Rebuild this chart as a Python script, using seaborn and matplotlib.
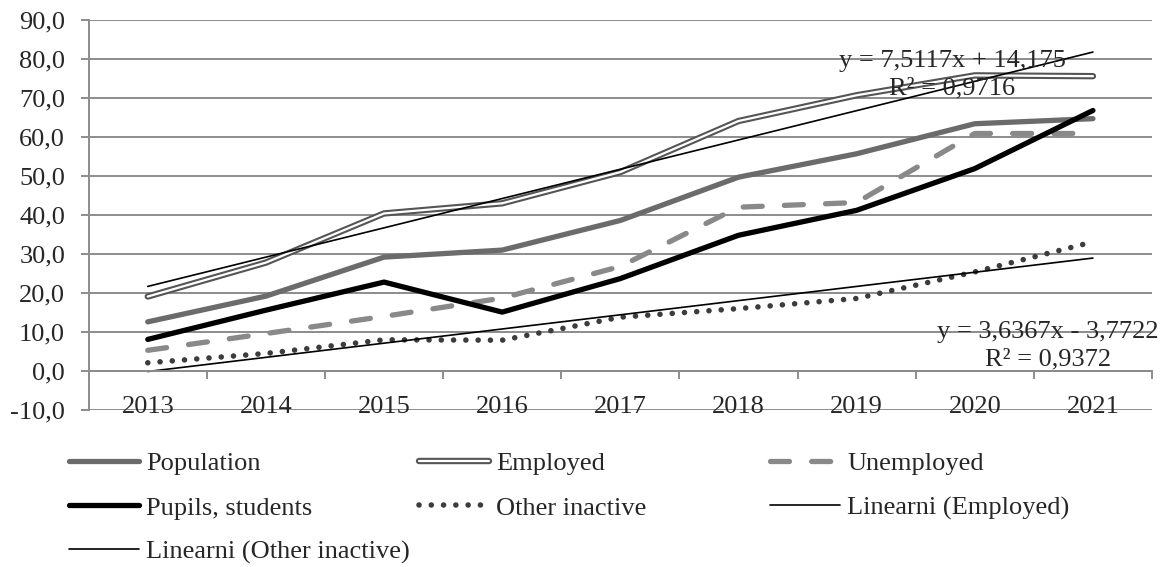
import matplotlib
matplotlib.use('Agg')
import matplotlib.pyplot as plt
import seaborn as sns
import numpy as np
from matplotlib.ticker import FuncFormatter, FixedLocator
from matplotlib.legend_handler import HandlerTuple

sns.set_theme(style='white')
plt.rcParams['font.family'] = ['Liberation Serif', 'DejaVu Serif']

years = ['2013', '2014', '2015', '2016', '2017', '2018', '2019', '2020', '2021']
population = [12.6, 19.2, 29.2, 31.0, 38.6, 49.7, 55.7, 63.4, 64.7]
employed = [19.1, 27.8, 40.4, 43.0, 51.0, 64.1, 70.7, 75.8, 75.6]
unemployed = [5.3, 9.6, 14.0, 18.7, 26.8, 42.0, 43.2, 60.9, 60.9]
pupils = [8.1, 15.6, 22.8, 15.1, 23.7, 34.8, 41.2, 51.9, 66.8]
other_inactive = [2.1, 4.5, 8.0, 7.9, 13.8, 16.0, 18.6, 25.4, 33.1]

# trend line coefficients as printed on the chart
emp_slope, emp_icpt, emp_r2 = 7.5117, 14.175, 0.9716
oth_slope, oth_icpt, oth_r2 = 3.6367, -3.7722, 0.9372

pos = np.arange(len(years))
idx = pos + 1
emp_trend = emp_slope * idx + emp_icpt
oth_trend = oth_slope * idx + oth_icpt

fig = plt.figure(figsize=(11.68, 5.67), dpi=100)
ax = fig.add_axes([88.7 / 1168, 1 - 410 / 567, (1152 - 88.7) / 1168, (410 - 20) / 567])

grid_c = '#8c8c8c'
fs = 19

ax.set_xlim(-0.5, len(years) - 0.5)
ax.set_ylim(-10, 90)
for v in range(-10, 91, 10):
    ax.axhline(v, color=grid_c, lw=1.4, zorder=0)

l_pop = sns.lineplot(x=pos, y=population, ax=ax, color='#6b6b6b', lw=3.8,
                     solid_capstyle='round').lines[-1]
l_emp_o = sns.lineplot(x=pos, y=employed, ax=ax, color='#555555', lw=4.6,
                       solid_capstyle='round', solid_joinstyle='round').lines[-1]
l_emp_i = sns.lineplot(x=pos, y=employed, ax=ax, color='white', lw=1.6,
                       solid_capstyle='round').lines[-1]
l_une = sns.lineplot(x=pos, y=unemployed, ax=ax, color='#898989', lw=3.8).lines[-1]
l_une.set_linestyle((0, (3.6, 4.2)))
l_une.set_dash_capstyle('round')
l_pup = sns.lineplot(x=pos, y=pupils, ax=ax, color='black', lw=3.8,
                     solid_capstyle='round').lines[-1]
l_oth = sns.lineplot(x=pos, y=other_inactive, ax=ax, color='#3c3c3c', lw=4.0).lines[-1]
l_oth.set_linestyle((0, (0.01, 2.2)))
l_oth.set_dash_capstyle('round')
l_et = sns.lineplot(x=pos, y=emp_trend, ax=ax, color='black', lw=1.2).lines[-1]
l_ot = sns.lineplot(x=pos, y=oth_trend, ax=ax, color='black', lw=1.2).lines[-1]
if ax.get_legend():
    ax.get_legend().remove()

def fmt(v):
    return f'{v:.4f}'.rstrip('0').replace('.', ',')

ax.text(6.81, 76.0, f'y = {fmt(emp_slope)}x + {fmt(emp_icpt)}\nR² = {fmt(emp_r2)}',
        ha='center', va='center', fontsize=fs, linespacing=1.3, zorder=5)
ax.text(7.62, 6.4, f'y = {fmt(oth_slope)}x - {fmt(-oth_icpt)}\nR² = {fmt(oth_r2)}',
        ha='center', va='center', fontsize=fs, linespacing=1.3, zorder=5)

# axes
for s in ['top', 'right']:
    ax.spines[s].set_visible(False)
ax.spines['left'].set_color(grid_c)
ax.spines['left'].set_linewidth(1.4)
ax.spines['bottom'].set_position(('data', 0))
ax.spines['bottom'].set_color(grid_c)
ax.spines['bottom'].set_linewidth(1.4)

ax.yaxis.set_major_locator(FixedLocator(range(-10, 91, 10)))
ax.yaxis.set_major_formatter(FuncFormatter(lambda v, p: f'{v:.1f}'.replace('.', ',')))
ax.tick_params(axis='y', direction='out', length=6, width=1.4, color=grid_c,
               labelsize=fs, pad=11, left=True)

ax.xaxis.set_major_locator(FixedLocator(np.arange(-0.5, len(years), 1.0)))
ax.xaxis.set_major_formatter(FuncFormatter(lambda v, p: ''))
ax.set_xticks(pos, years, minor=True)
ax.tick_params(axis='x', which='major', direction='out', length=6, width=1.4,
               color=grid_c, bottom=True)
ax.tick_params(axis='x', which='minor', length=0, labelsize=fs, pad=18)
ax.set_xlabel('')
ax.set_ylabel('')

# legend, three columns placed as in the original
leg_kw = dict(frameon=False, borderpad=0, borderaxespad=0, handlelength=2.65,
              handletextpad=0.27, labelspacing=0.78, fontsize=fs, loc='upper left',
              handler_map={tuple: HandlerTuple(ndivide=1)})
top = 1 - 452 / 567
fig.legend([l_pop, l_pup, l_ot], ['Population', 'Pupils, students', 'Linearni (Other inactive)'],
           bbox_to_anchor=(69 / 1168, top), **leg_kw)
fig.legend([(l_emp_o, l_emp_i), l_oth], ['Employed', 'Other inactive'],
           bbox_to_anchor=(419 / 1168, top), **leg_kw)
fig.legend([l_une, l_et], ['Unemployed', 'Linearni (Employed)'],
           bbox_to_anchor=(770 / 1168, top), **leg_kw)

fig.savefig('out.png', dpi=100, facecolor='white')
